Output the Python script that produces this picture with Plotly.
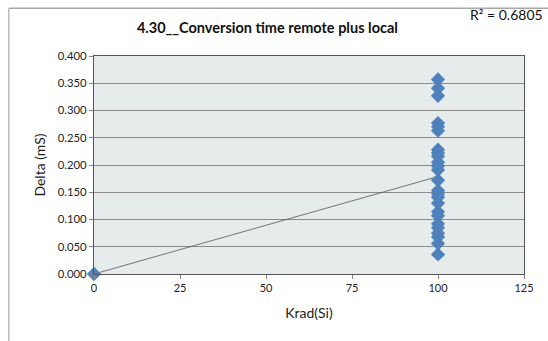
import numpy as np
import plotly.graph_objects as go

krad = [0] + [100] * 25
delta = [0.000,
         0.357, 0.341, 0.327, 0.277, 0.270, 0.263, 0.228, 0.222, 0.216,
         0.205, 0.198, 0.191, 0.172, 0.153, 0.147, 0.141, 0.130, 0.114,
         0.107, 0.092, 0.085, 0.075, 0.068, 0.056, 0.036]
title_text = "4.30__Conversion time remote plus local"
r2_text = "R² = 0.6805"
x_ticks = [0, 25, 50, 75, 100, 125]
y_ticks = [0.0, 0.05, 0.1, 0.15, 0.2, 0.25, 0.3, 0.35, 0.4]

slope, intercept = np.polyfit(krad, delta, 1)
tx = [min(krad), max(krad)]
ty = [slope * v + intercept for v in tx]

fig = go.Figure()
fig.add_trace(go.Scatter(x=tx, y=ty, mode="lines",
                         line=dict(color="#555555", width=0.8),
                         hoverinfo="skip", cliponaxis=False))
fig.add_trace(go.Scatter(x=krad, y=delta, mode="markers",
                         marker=dict(symbol="diamond", size=11, color="#4F81BD",
                                     line=dict(width=0)),
                         cliponaxis=False))

fig.update_layout(
    width=548, height=341,
    margin=dict(l=94, r=24, t=56, b=67),
    paper_bgcolor="white",
    plot_bgcolor="#E6ECEC",
    showlegend=False,
    font=dict(family="Lato, Liberation Sans, sans-serif", color="#222222"),
    title=dict(text="<b>" + title_text + "</b>", x=0.488, xanchor="center",
               y=0.918, yanchor="middle", font=dict(size=14.5, color="#111111")),
    xaxis=dict(range=[0, 125], tickvals=x_ticks, ticks="outside", ticklen=4,
               tickcolor="#888888", showgrid=False, zeroline=False,
               showline=True, linecolor="#555555", linewidth=1.3, mirror=True,
               tickfont=dict(size=11),
               title=dict(text="Krad(Si)", font=dict(size=14), standoff=14)),
    yaxis=dict(range=[0, 0.4], tickvals=y_ticks, tickformat=".3f",
               ticks="outside", ticklen=4, tickcolor="#888888",
               showgrid=True, gridcolor="#8C8C8C", gridwidth=1, zeroline=False,
               showline=True, linecolor="#555555", linewidth=1.3, mirror=True,
               tickfont=dict(size=11.3),
               title=dict(text="Delta (mS)", font=dict(size=14), standoff=8)),
)

fig.add_annotation(text=r2_text, xref="paper", yref="paper", x=1.049, y=1.19,
                   xanchor="right", yanchor="middle", showarrow=False,
                   font=dict(size=14, color="#111111"))

# outer chart border (top and left visible)
fig.add_shape(type="line", xref="paper", yref="paper",
              x0=-0.198, x1=1.1, y0=1.219, y1=1.219,
              line=dict(color="#A8A8A8", width=1.5))
fig.add_shape(type="line", xref="paper", yref="paper",
              x0=-0.198, x1=-0.198, y0=1.219, y1=-0.35,
              line=dict(color="#BBBBBB", width=1.5))

fig.write_html("out.html",
               config={"displayModeBar": False},
               post_script="document.body.style.margin='0';document.body.style.overflow='hidden';")
